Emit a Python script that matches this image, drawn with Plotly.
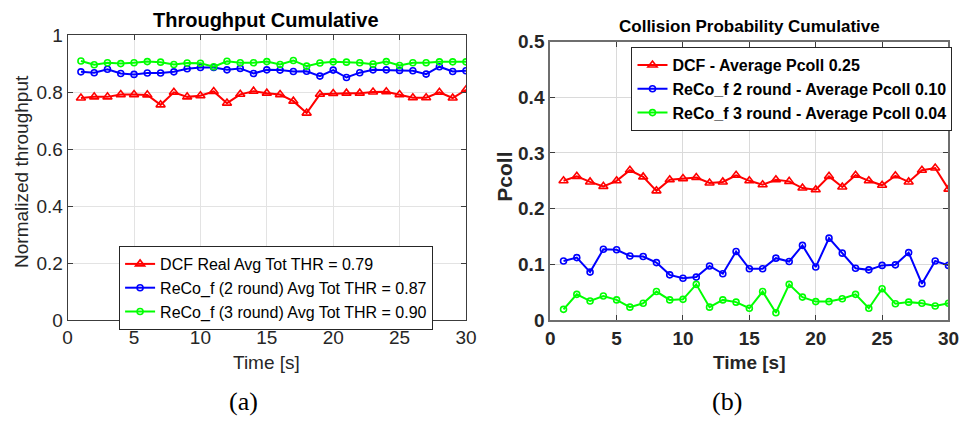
import plotly.graph_objects as go

# Time axis (seconds)
time_s = list(range(1, 31))

# Normalized throughput per second
thr_dcf = [0.780, 0.784, 0.784, 0.792, 0.792, 0.791, 0.756, 0.800, 0.784, 0.788,
           0.803, 0.762, 0.793, 0.804, 0.797, 0.792, 0.769, 0.727, 0.793, 0.796,
           0.797, 0.797, 0.801, 0.802, 0.792, 0.781, 0.781, 0.800, 0.780, 0.809]
thr_reco2 = [0.872, 0.869, 0.881, 0.866, 0.863, 0.868, 0.868, 0.872, 0.883, 0.887,
             0.887, 0.879, 0.884, 0.866, 0.879, 0.878, 0.873, 0.874, 0.857, 0.878,
             0.852, 0.869, 0.879, 0.879, 0.877, 0.876, 0.864, 0.890, 0.873, 0.876]
thr_reco3 = [0.910, 0.897, 0.904, 0.901, 0.904, 0.908, 0.906, 0.898, 0.903, 0.902,
             0.890, 0.909, 0.904, 0.904, 0.908, 0.898, 0.912, 0.892, 0.903, 0.907,
             0.906, 0.904, 0.899, 0.908, 0.894, 0.904, 0.904, 0.907, 0.907, 0.907]

# Collision probability per second
pc_dcf = [0.250, 0.258, 0.248, 0.240, 0.250, 0.269, 0.257, 0.232, 0.252, 0.254,
          0.256, 0.246, 0.248, 0.260, 0.250, 0.243, 0.252, 0.249, 0.237, 0.234,
          0.258, 0.239, 0.260, 0.250, 0.242, 0.259, 0.248, 0.269, 0.273, 0.235]
pc_reco2 = [0.106, 0.112, 0.086, 0.127, 0.126, 0.115, 0.114, 0.103, 0.081, 0.075,
            0.077, 0.097, 0.083, 0.123, 0.092, 0.092, 0.111, 0.105, 0.134, 0.095,
            0.147, 0.120, 0.093, 0.090, 0.098, 0.099, 0.121, 0.065, 0.106, 0.098]
pc_reco3 = [0.019, 0.046, 0.034, 0.043, 0.036, 0.023, 0.030, 0.051, 0.036, 0.037,
            0.064, 0.023, 0.036, 0.032, 0.021, 0.051, 0.013, 0.064, 0.041, 0.033,
            0.033, 0.038, 0.046, 0.021, 0.056, 0.029, 0.032, 0.030, 0.025, 0.030]

thr_names = ["DCF Real Avg Tot THR = 0.79",
             "ReCo_f (2 round) Avg Tot THR = 0.87",
             "ReCo_f (3 round) Avg Tot THR = 0.90"]
pc_names = ["DCF - Average Pcoll 0.25",
            "ReCo_f 2 round - Average Pcoll 0.10",
            "ReCo_f 3 round - Average Pcoll 0.04"]

x_ticks = [0, 5, 10, 15, 20, 25, 30]
thr_ticks = [0, 0.2, 0.4, 0.6, 0.8, 1]
thr_tick_text = ["0", "0.2", "0.4", "0.6", "0.8", "1"]
pc_ticks = [0, 0.1, 0.2, 0.3, 0.4, 0.5]
pc_tick_text = ["0", "0.1", "0.2", "0.3", "0.4", "0.5"]

RED, BLUE, GREEN = "#ff0000", "#0000ff", "#00ff00"
W, H = 970, 434
SANS = "Liberation Sans, Arial, sans-serif"
SERIF = "Liberation Serif, DejaVu Serif, serif"


def px(x):
    """Pixel column -> paper fraction."""
    return x / W


def py(y):
    """Pixel row (from top) -> paper fraction."""
    return 1 - y / H


fig = go.Figure()


def add_series(x, y, name, color, symbol, size, xa, ya, legend):
    fig.add_trace(go.Scatter(
        x=x, y=y, name=name, mode="lines+markers",
        xaxis=xa, yaxis=ya, legend=legend,
        line=dict(color=color, width=2),
        marker=dict(symbol=symbol, size=size, color=color,
                    line=dict(color=color, width=1.6)),
    ))


add_series(time_s, thr_dcf, thr_names[0], RED, "triangle-up-open", 8, "x", "y", "legend")
add_series(time_s, thr_reco2, thr_names[1], BLUE, "circle-open", 6, "x", "y", "legend")
add_series(time_s, thr_reco3, thr_names[2], GREEN, "circle-open", 6, "x", "y", "legend")

add_series(time_s, pc_dcf, pc_names[0], RED, "triangle-up-open", 8, "x2", "y2", "legend2")
add_series(time_s, pc_reco2, pc_names[1], BLUE, "circle-open", 6, "x2", "y2", "legend2")
add_series(time_s, pc_reco3, pc_names[2], GREEN, "circle-open", 6, "x2", "y2", "legend2")

left_axis = dict(showline=True, linecolor="#3c3c3c", linewidth=1, mirror="ticks",
                 ticks="inside", ticklen=5, tickcolor="#3c3c3c",
                 showgrid=True, gridcolor="#e3e3e3", gridwidth=1, zeroline=False,
                 tickfont=dict(family=SANS, size=19, color="#262626"))
right_axis = dict(showline=True, linecolor="#6e6e6e", linewidth=2, mirror="ticks",
                  ticks="inside", ticklen=5, tickcolor="#3c3c3c",
                  showgrid=True, gridcolor="#dadada", gridwidth=1, zeroline=False,
                  tickfont=dict(family=SANS, size=19, color="#262626", weight="bold"))

fig.update_layout(
    width=W, height=H,
    margin=dict(l=0, r=0, t=0, b=0),
    paper_bgcolor="white", plot_bgcolor="white",
    xaxis=dict(domain=[px(63.7), px(468.7)], anchor="y", range=[0, 30],
               tickvals=x_ticks, **left_axis),
    yaxis=dict(domain=[py(325.7), py(26.7)], anchor="x", range=[0, 1],
               tickvals=thr_ticks, ticktext=thr_tick_text, **left_axis),
    xaxis2=dict(domain=[px(554.4), px(959.3)], anchor="y2", range=[0, 30],
                tickvals=x_ticks, **right_axis),
    yaxis2=dict(domain=[py(325.7), py(33.3)], anchor="x2", range=[0, 0.5],
                tickvals=pc_ticks, ticktext=pc_tick_text, **right_axis),
    legend=dict(x=px(116), y=py(248), xanchor="left", yanchor="top",
                bgcolor="white", bordercolor="#262626", borderwidth=1,
                font=dict(family=SANS, size=16, color="black"),
                itemwidth=30),
    legend2=dict(x=px(637), y=py(39), xanchor="left", yanchor="top",
                 bgcolor="white", bordercolor="#262626", borderwidth=1,
                 font=dict(family=SANS, size=16, color="black", weight="bold"),
                 itemwidth=30),
    showlegend=True,
)

annotations = [
    dict(text="Throughput Cumulative", x=px(265.5), y=py(11),
         font=dict(family=SANS, size=20, color="black", weight="bold")),
    dict(text="Collision Probability Cumulative", x=px(757), y=py(17),
         font=dict(family=SANS, size=17, color="black", weight="bold")),
    dict(text="Normalized throughput", x=px(17.5), y=py(170), textangle=-90,
         font=dict(family=SANS, size=19, color="#262626")),
    dict(text="Pcoll", x=px(507.5), y=py(175), textangle=-90,
         font=dict(family=SANS, size=21, color="#262626", weight="bold")),
    dict(text="Time [s]", x=px(266), y=py(370),
         font=dict(family=SANS, size=19, color="#262626")),
    dict(text="Time [s]", x=px(757), y=py(370),
         font=dict(family=SANS, size=19, color="#262626", weight="bold")),
    dict(text="(a)", x=px(243), y=py(411),
         font=dict(family=SERIF, size=26, color="black")),
    dict(text="(b)", x=px(734), y=py(411),
         font=dict(family=SERIF, size=26, color="black")),
]
for a in annotations:
    a.update(xref="paper", yref="paper", showarrow=False,
             xanchor="center", yanchor="middle")
fig.update_layout(annotations=annotations)

fig.write_html("out.html")
